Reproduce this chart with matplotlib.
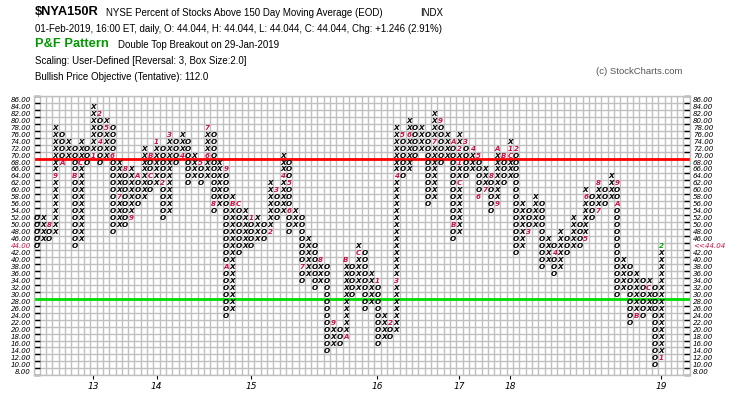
import matplotlib
matplotlib.use("Agg")
import matplotlib.pyplot as plt
from matplotlib.transforms import blended_transform_factory
import numpy as np

# ---------------- data ----------------
first_type = "O"
col_low = [44, 46, 46, 48, 68, 70, 44, 46, 68, 70,
           68, 70, 48, 50, 50, 52, 56, 58, 60, 62,
           52, 54, 68, 70, 62, 64, 62, 64, 54, 56,
           24, 26, 42, 44, 44, 46, 46, 48, 52, 54,
           48, 50, 34, 36, 32, 34, 14, 16, 16, 18,
           30, 32, 26, 28, 16, 18, 18, 20, 64, 66,
           70, 72, 56, 58, 68, 70, 46, 48, 64, 66,
           58, 60, 54, 56, 62, 64, 42, 44, 48, 50,
           38, 40, 36, 38, 42, 44, 44, 46, 52, 54,
           56, 58, 30, 32, 22, 24, 24, 26, 10, 12]
col_high = [52, 52, 50, 78, 76, 74, 72, 74, 72, 84,
            82, 80, 78, 68, 66, 66, 64, 72, 70, 74,
            72, 76, 74, 76, 74, 70, 68, 78, 76, 68,
            66, 58, 56, 54, 52, 52, 50, 62, 60, 70,
            68, 54, 52, 46, 44, 40, 38, 22, 20, 40,
            38, 44, 42, 36, 34, 24, 22, 78, 76, 80,
            78, 78, 76, 82, 80, 76, 74, 76, 74, 72,
            70, 66, 64, 72, 70, 74, 72, 56, 54, 58,
            56, 46, 44, 48, 46, 52, 50, 60, 58, 62,
            60, 64, 62, 40, 38, 36, 34, 34, 32, 44]

mark_col = [3, 4, 5, 7, 8, 10, 11, 11, 12, 13, 14, 15, 16, 17, 19, 19, 20, 21, 22, 24,
            27, 28, 28, 29, 31, 31, 32, 33, 35, 38, 39, 40, 41, 41, 43, 46, 48, 50, 50, 52,
            55, 57, 58, 58, 59, 60, 64, 65, 67, 67, 68, 68, 68, 69, 70, 71, 71, 72, 73, 74,
            74, 75, 76, 76, 77, 79, 83, 88, 88, 90, 90, 93, 93, 96, 98, 100, 100]
mark_level = [50, 64, 68, 64, 68, 70, 82, 74, 78, 70, 58, 66, 52, 64, 70, 64, 74, 62, 76, 70,
              68, 70, 78, 56, 66, 38, 56, 56, 52, 48, 60, 64, 62, 54, 38, 40, 22, 18, 40, 42,
              34, 22, 34, 64, 76, 76, 74, 80, 74, 50, 62, 68, 72, 74, 72, 70, 58, 60, 64, 56,
              72, 70, 70, 72, 72, 48, 42, 46, 58, 54, 62, 62, 56, 24, 32, 12, 44]
mark_text = ["8", "9", "A", "B", "C", "1", "2", "4", "5", "6", "7", "8", "9", "A", "B", "C", "1", "2", "3", "4",
             "5", "6", "7", "8", "9", "A", "B", "C", "1", "2", "3", "4", "5", "6", "7", "8", "9", "A", "B", "C",
             "1", "2", "3", "4", "5", "6", "7", "9", "A", "B", "C", "1", "2", "3", "4", "5", "6", "7", "8", "9",
             "A", "B", "C", "1", "2", "3", "4", "5", "6", "7", "8", "9", "A", "B", "C", "1", "2"]

year_cols = [10, 20, 35, 55, 68, 76, 100]
year_labels = ["13", "14", "15", "16", "17", "18", "19"]

box_levels = list(range(8, 88, 2))
resistance = 70
support = 30
last_value_label = "<<44.04"

# ---------------- figure ----------------
W, H = 745, 397
fig = plt.figure(figsize=(W / 100, H / 100), dpi=100)
fig.patch.set_facecolor("white")

px_l, px_r, px_t, px_b = 33.5, 689.8, 96.2, 375.4
ax = fig.add_axes([px_l / W, 1 - px_b / H, (px_r - px_l) / W, (px_b - px_t) / H])
ax.set_xlim(0.5, 104.5)
ax.set_ylim(8, 88)
ax.set_facecolor("white")

gridc = "#c0c0c0"
ax.set_yticks(range(8, 89, 2))
ax.set_xticks(np.arange(0.5, 105, 1), minor=True)
ax.grid(which="minor", axis="x", color=gridc, lw=1.0, zorder=0)
ax.grid(which="major", axis="y", color=gridc, lw=1.0, zorder=0)
ax.set_axisbelow(True)
ax.tick_params(axis="y", which="major", direction="in", length=4, width=1,
               left=True, right=True, labelleft=False, labelright=False, color="black")
ax.tick_params(axis="x", which="minor", length=0)
ax.set_xticks(year_cols)
ax.set_xticklabels(year_labels, fontsize=6.5, fontstyle="italic")
ax.tick_params(axis="x", which="major", direction="out", length=3, width=0.8, pad=2)
for sp in ax.spines.values():
    sp.set_color(gridc)
    sp.set_linewidth(1.0)

ax.axhline(resistance, color="#ff0000", lw=2.0, zorder=2)
ax.axhline(support, color="#00dd00", lw=2.0, zorder=2)

# ---------------- X / O columns ----------------
marks = {(c, l): s for c, l, s in zip(mark_col, mark_level, mark_text)}
red = "#cc1144"
ncol = len(col_low)
for i, (lo, hi) in enumerate(zip(col_low, col_high)):
    col = i + 1
    sym = "O" if ((i % 2 == 0) == (first_type == "O")) else "X"
    for lev in range(lo, hi + 1, 2):
        if (col, lev) in marks:
            color = "#00aa00" if (col == ncol and lev == hi) else red
            ax.text(col, lev + 1, marks[(col, lev)], ha="center", va="center", fontsize=5.1,
                    fontstyle="italic", fontweight="bold", color=color, zorder=3)
        else:
            ax.text(col, lev + 1, sym, ha="center", va="center", fontsize=5.2,
                    fontstyle="italic", fontweight="bold", color="black", zorder=3)

# ---------------- price labels ----------------
trl = blended_transform_factory(fig.transFigure, ax.transData)
for lev in box_levels:
    lab = f"{lev}.00"
    c = red if lev == 44 else "black"
    fig.text(31 / W, lev + 1, lab, transform=trl, ha="right", va="center",
             fontsize=5.1, fontstyle="italic", color=c)
    rlab = last_value_label if lev == 44 else lab
    fig.text(693 / W, lev + 1, rlab, transform=trl, ha="left", va="center",
             fontsize=5.1, fontstyle="italic", color=c)

# ---------------- header ----------------
def ftxt(x, y, s, **kw):
    fig.text(x / W, 1 - y / H, s, va="center", ha="left", family="Liberation Sans", **kw)

ftxt(35, 12, "$NYA150R", fontsize=9.3, fontweight="bold")
ftxt(106, 12.5, "NYSE Percent of Stocks Above 150 Day Moving Average (EOD)", fontsize=7.0)
ftxt(420, 12.5, "INDX", fontsize=7.0)
ftxt(35, 28.5, "01-Feb-2019, 16:00 ET, daily, O: 44.044, H: 44.044, L: 44.044, C: 44.044, Chg: +1.246 (2.91%)",
     fontsize=7.05)
ftxt(35, 44, "P&F Pattern", fontsize=9.3, fontweight="bold", color="#009900")
ftxt(118, 44.5, "Double Top Breakout on 29-Jan-2019", fontsize=7.0)
ftxt(35, 60.5, "Scaling: User-Defined [Reversal: 3, Box Size:2.0]", fontsize=7.0)
ftxt(35, 76.5, "Bullish Price Objective (Tentative): 112.0", fontsize=7.0)
ftxt(596, 72, "(c) StockCharts.com", fontsize=6.8, color="#555555")

fig.savefig("out.png", dpi=100, facecolor="white")
